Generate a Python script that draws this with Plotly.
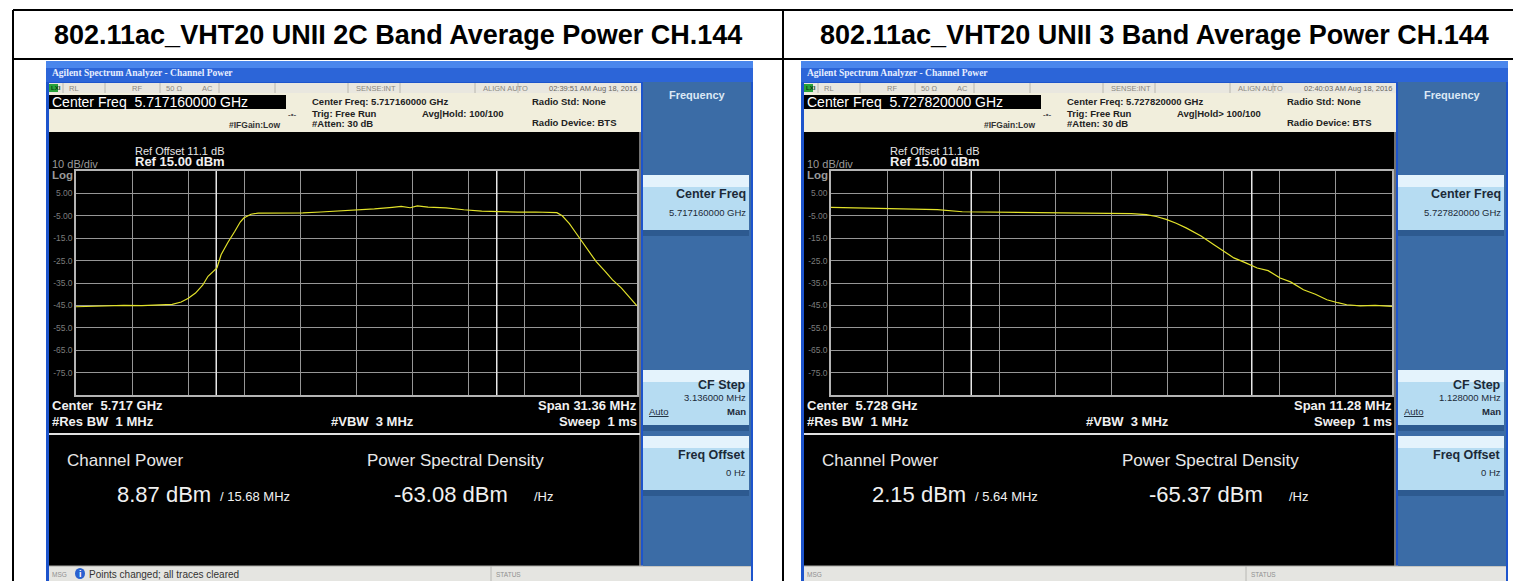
import plotly.graph_objects as go

W, H = 1521, 581
FONT = "Liberation Sans, Arial, sans-serif"

TITLES = ["802.11ac_VHT20 UNII 2C Band Average Power CH.144",
          "802.11ac_VHT20 UNII 3 Band Average Power CH.144"]

# trace readings: offset from centre (MHz) and level (dBm)
f_2c = [-15.68, -14.5, -13.0, -12.0, -11.0, -10.3, -9.8, -9.4, -9.0, -8.6,
        -8.3, -8.0, -7.8, -7.57, -7.2, -6.8, -6.5, -6.3, -5.9, -5.5,
        -5.0, -4.0, -3.0, -2.0, -1.0, 0.0, 1.0, 2.0, 2.5, 3.0,
        3.4, 4.0, 5.0, 6.0, 7.0, 8.0, 9.0, 10.0, 10.8, 11.2,
        11.5, 11.9, 12.2, 12.6, 12.95, 13.4, 13.9, 14.3, 14.8, 15.2, 15.68]
p_2c = [-45.6, -45.3, -45.0, -45.1, -44.8, -44.5, -43.5, -41.8, -39.5, -36.0,
        -32.0, -29.5, -28.3, -22.4, -17.0, -11.9, -7.8, -6.0, -4.3, -3.8,
        -3.8, -3.6, -3.7, -3.3, -2.8, -2.6, -1.9, -1.2, -0.8, -1.4,
        -0.6, -1.1, -1.5, -2.3, -2.9, -3.1, -3.4, -3.3, -3.4, -3.6,
        -5.0, -8.5, -11.9, -16.5, -20.8, -25.5, -29.8, -33.5, -37.2, -41.0, -45.2]

f_3 = [-5.64, -5.0, -4.5, -4.0, -3.5, -3.0, -2.5, -2.0, -1.5, -1.0,
       -0.5, 0.0, 0.4, 0.7, 0.9, 1.1, 1.3, 1.5, 1.8, 2.06,
       2.3, 2.46, 2.7, 2.93, 3.15, 3.39, 3.6, 3.86, 4.1, 4.33,
       4.55, 4.73, 5.0, 5.3, 5.64]
p_3 = [-1.2, -1.5, -1.4, -1.9, -2.2, -3.2, -3.3, -3.4, -3.5, -3.5,
       -3.7, -3.8, -4.0, -4.5, -5.3, -6.6, -8.3, -10.4, -14.0, -17.9,
       -21.5, -23.8, -26.0, -28.3, -29.5, -32.8, -34.5, -38.0, -40.0, -42.5,
       -43.8, -44.7, -45.2, -45.0, -45.4]

SPANS = [31.36, 11.28]           # MHz
INTEG_BW = [15.68, 5.64]         # MHz
CENTER_FREQ = ["5.717160000 GHz", "5.727820000 GHz"]
CENTER_SHORT = ["5.717 GHz", "5.728 GHz"]
TIMESTAMPS = ["02:39:51 AM Aug 18, 2016", "02:40:03 AM Aug 18, 2016"]
AVG_HOLD = ["Avg|Hold: 100/100", "Avg|Hold&gt; 100/100"]
CF_STEP = ["3.136000 MHz", "1.128000 MHz"]
CH_POWER = ["8.87 dBm", "2.15 dBm"]
PSD = ["-63.08 dBm", "-65.37 dBm"]
MESSAGES = ["Points changed; all traces cleared", ""]

REF_LEVEL = 15
DB_DIV = 10
Y_TICKS = [5, -5, -15, -25, -35, -45, -55, -65, -75]
Y_TICKTEXT = ["5.00", "-5.00", "-15.0", "-25.0", "-35.0", "-45.0", "-55.0", "-65.0", "-75.0"]

NB = "\u00a0"
shapes, notes = [], []


def rect(x0, y0, x1, y1, fill, line=None, lw=0, layer="below", kind="rect"):
    shapes.append(dict(type=kind, xref="paper", yref="paper",
                       x0=x0 / W, x1=x1 / W, y0=1 - y1 / H, y1=1 - y0 / H,
                       fillcolor=fill, line=dict(width=lw, color=line or fill), layer=layer))


def seg(x0, y0, x1, y1, color, lw=1, layer="below"):
    shapes.append(dict(type="line", xref="paper", yref="paper",
                       x0=x0 / W, x1=x1 / W, y0=1 - y0 / H, y1=1 - y1 / H,
                       line=dict(width=lw, color=color), layer=layer))


def text(x, y, s, size, color="#000000", bold=False, anchor="left", family=FONT):
    notes.append(dict(x=x / W, y=1 - y / H, xref="paper", yref="paper", text=s,
                      showarrow=False, xanchor=anchor, yanchor="middle", borderpad=0,
                      font=dict(family=family, size=size, color=color,
                                weight="bold" if bold else "normal")))


def draw_panel(i, dx):
    X = lambda v: v + dx
    # window frame and title bar
    rect(X(38), 53, X(745), 580, "#1d54cc")
    rect(X(38), 53, X(745), 60, "#4a86ec")
    rect(X(38), 60, X(745), 74, "#2c65d8")
    text(X(43), 65, "Agilent Spectrum Analyzer - Channel Power", 9.5, "#e6eeff", True,
         family="Liberation Serif, serif")
    # status row
    rect(X(41), 75, X(633), 85, "#e9e7df")
    for sx in [55, 97, 152, 211, 267, 340, 392, 467, 510]:
        seg(X(sx), 75, X(sx), 85, "#b8b6ae")
    rect(X(41), 76, X(50), 84, "#27a33a")
    text(X(42), 80, "LXI", 6, "#0a3a10", True)
    for sx, s in [(60, "RL"), (123, "RF"), (157, "50 Ω"), (193, "AC"),
                  (347, "SENSE:INT"), (474, "ALIGN AUTO")]:
        text(X(sx), 80, s, 7.5, "#8a8880")
    text(X(630), 80, TIMESTAMPS[i], 7.5, "#6a6860", anchor="right")
    # cream header
    rect(X(41), 85, X(633), 124, "#f1eedc")
    rect(X(41), 87, X(278), 101, "#000000")
    text(X(43), 94, "Center Freq" + NB * 2 + CENTER_FREQ[i], 14, "#ffffff")
    text(X(279), 106, "-•-", 8, "#555555", True)
    text(X(220), 117, "#IFGain:Low", 8.5, "#333333", True)
    text(X(303), 94, "Center Freq: " + CENTER_FREQ[i], 9.5, "#222222", True)
    text(X(303), 105, "Trig: Free Run", 9.5, "#222222", True)
    text(X(303), 116, "#Atten: 30 dB", 9.5, "#222222", True)
    text(X(413), 105, AVG_HOLD[i], 9.5, "#222222", True)
    text(X(523), 94, "Radio Std: None", 9.5, "#222222", True)
    text(X(523), 115, "Radio Device: BTS", 9.5, "#222222", True)
    # display area
    rect(X(41), 124, X(633), 558, "#000000")
    seg(X(632), 124, X(632), 558, "#9a9a9a", 1.5)
    seg(X(41), 426, X(632), 426, "#e0e0e0", 2)
    text(X(126), 143, "Ref Offset 11.1 dB", 11, "#e4e4e4")
    text(X(126), 154, "Ref 15.00 dBm", 13, "#f0f0f0", True)
    text(X(43), 156, "10 dB/div", 11, "#9a9a9a")
    text(X(43), 167, "Log", 11.5, "#9a9a9a", True)
    text(X(43), 397, "Center" + NB * 2 + CENTER_SHORT[i], 13, "#f0f0f0", True)
    text(X(43), 413, "#Res BW" + NB * 2 + "1 MHz", 13, "#f0f0f0", True)
    text(X(364), 413, "#VBW" + NB * 2 + "3 MHz", 13, "#f0f0f0", True, anchor="center")
    text(X(630), 397, "Span %.2f MHz" % SPANS[i], 13, "#f0f0f0", True, anchor="right")
    text(X(630), 413, "Sweep" + NB * 2 + "1 ms", 13, "#f0f0f0", True, anchor="right")
    text(X(58), 452, "Channel Power", 17, "#e8e8e8")
    text(X(358), 452, "Power Spectral Density", 17, "#e8e8e8")
    text(X(108), 486, CH_POWER[i], 22, "#f0f0f0")
    text(X(211), 488, "/ %.2f MHz" % INTEG_BW[i], 13, "#f0f0f0")
    text(X(385), 486, PSD[i], 22, "#f0f0f0")
    text(X(525), 488, "/Hz", 13, "#f0f0f0")
    # message bar
    rect(X(41), 558, X(743), 573, "#e5e5e1")
    seg(X(41), 558, X(743), 558, "#a8a8a4", 1)
    seg(X(483), 558, X(483), 573, "#b8b8b4", 1)
    text(X(43), 566, "MSG", 6.5, "#909090")
    text(X(487), 566, "STATUS", 6.5, "#909090")
    if MESSAGES[i]:
        rect(X(67), 560, X(77), 571, "#2a62d0", kind="circle")
        text(X(72), 566, "i", 9, "#ffffff", True, anchor="center")
        text(X(80), 566, MESSAGES[i], 10, "#333333")
    # softkey panel
    rect(X(635), 74, X(743), 558, "#3b6ca6")
    text(X(689), 87, "Frequency", 11, "#dce8f5", True, anchor="center")
    for y0, y1 in [(167, 222), (362, 417), (428, 482)]:
        rect(X(635), y0, X(741), y1, "#b6dcf2")
        rect(X(635), y0, X(741), y0 + 12, "#e4f3fc")
        rect(X(635), y1, X(741), y1 + 6, "#2d5a90")
    text(X(739), 186, "Center Freq", 12.5, "#1c2a38", True, anchor="right")
    text(X(739), 204, CENTER_FREQ[i], 9.5, "#1c2a38", anchor="right")
    text(X(739), 377, "CF Step", 12.5, "#1c2a38", True, anchor="right")
    text(X(739), 389, CF_STEP[i], 9.5, "#1c2a38", anchor="right")
    text(X(640), 403, "<u>Auto</u>", 9.5, "#1c2a38")
    text(X(739), 403, "Man", 9.5, "#1c2a38", True, anchor="right")
    text(X(739), 447, "Freq Offset", 12.5, "#1c2a38", True, anchor="right")
    text(X(739), 464, "0 Hz", 9.5, "#1c2a38", anchor="right")


fig = go.Figure()

for i, (f, p) in enumerate([(f_2c, p_2c), (f_3, p_3)]):
    dx = 0 if i == 0 else 755
    draw_panel(i, dx)
    sfx = "" if i == 0 else "2"
    half = SPANS[i] / 2
    bottom = REF_LEVEL - 10 * DB_DIV
    # integration bandwidth markers
    for edge in (-INTEG_BW[i] / 2, INTEG_BW[i] / 2):
        fig.add_trace(go.Scatter(x=[edge, edge], y=[bottom, REF_LEVEL], mode="lines",
                                 showlegend=False, hoverinfo="skip",
                                 line=dict(color="#e8e8e8", width=1.5),
                                 xaxis="x" + sfx, yaxis="y" + sfx))
    fig.add_trace(go.Scatter(x=f, y=p, mode="lines", showlegend=False, hoverinfo="skip",
                             line=dict(color="#e2e22a", width=1.2),
                             xaxis="x" + sfx, yaxis="y" + sfx))
    xgrid = [-half + k * SPANS[i] / 10 for k in range(11)]
    fig.update_layout(**{
        "xaxis" + sfx: dict(domain=[(68 + dx) / W, (629 + dx) / W], range=[-half, half],
                            tickvals=xgrid, showticklabels=False, ticks="",
                            showgrid=True, gridcolor="#969696", gridwidth=1, zeroline=False,
                            showline=True, mirror=True, linecolor="#b4b4b4", linewidth=1.5,
                            anchor="y" + sfx, fixedrange=True),
        "yaxis" + sfx: dict(domain=[1 - 387 / H, 1 - 163 / H], range=[bottom, REF_LEVEL],
                            tickvals=Y_TICKS, ticktext=Y_TICKTEXT, ticks="",
                            tickfont=dict(size=8.5, color="#7c7c7c", family=FONT),
                            showgrid=True, gridcolor="#969696", gridwidth=1, zeroline=False,
                            showline=True, mirror=True, linecolor="#b4b4b4", linewidth=1.5,
                            anchor="x" + sfx, fixedrange=True),
    })

# table grid and titles
seg(5, 2, 1518, 2, "#000000", 2, "above")
seg(5, 580, 1518, 580, "#000000", 2, "above")
seg(5, 2, 5, 580, "#000000", 2, "above")
seg(1518, 2, 1518, 580, "#000000", 2, "above")
seg(5, 51, 1518, 51, "#000000", 2, "above")
seg(775, 2, 775, 580, "#000000", 2, "above")
text(390, 27, TITLES[0], 27, "#000000", True, anchor="center")
text(1146, 27, TITLES[1], 27, "#000000", True, anchor="center")

fig.update_layout(width=W, height=H, margin=dict(l=0, r=0, t=0, b=0), autosize=False,
                  paper_bgcolor="#ffffff", plot_bgcolor="rgba(0,0,0,0)",
                  font=dict(family=FONT), shapes=shapes, annotations=notes)

fig.write_html("out.html")
